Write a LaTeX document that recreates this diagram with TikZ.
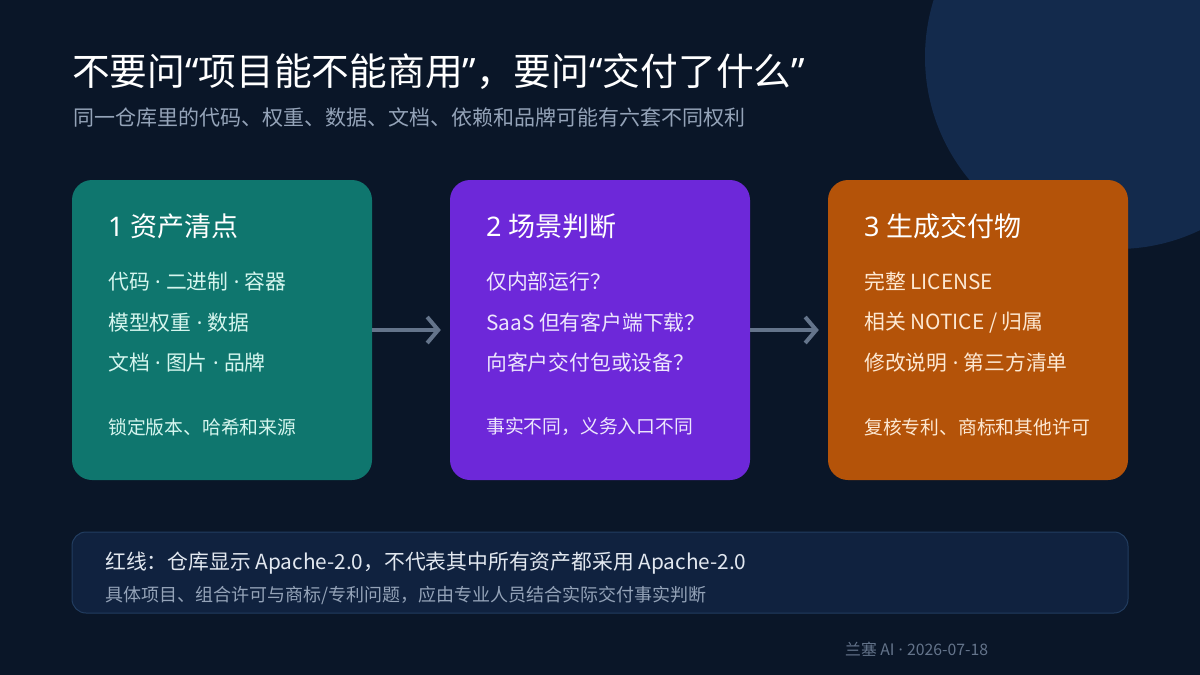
\documentclass[tikz,border=0pt]{standalone}
\usepackage{fontspec}
\setmainfont{Noto Sans CJK SC}
\newfontfamily\latf{Noto Sans}
\newcommand{\mydot}{{\latf ·}}
\newcommand{\myoq}{{\latf “}}
\newcommand{\mycq}{{\latf ”}}
\usetikzlibrary{arrows.meta}
\definecolor{bg}{HTML}{0A1628}
\definecolor{circ}{HTML}{132A4C}
\definecolor{cteal}{HTML}{0F766E}
\definecolor{cpurp}{HTML}{6D28D9}
\definecolor{corng}{HTML}{B45309}
\definecolor{arrc}{HTML}{64748B}
\definecolor{subc}{HTML}{94A3B8}
\definecolor{boxfill}{HTML}{10223F}
\definecolor{boxline}{HTML}{223D60}
\definecolor{tmint}{HTML}{D5F5EE}
\definecolor{tlav}{HTML}{EDE6FD}
\definecolor{tcream}{HTML}{FDE8D2}
\definecolor{lineone}{HTML}{E2E8F0}
\tikzset{
  card/.style={minimum width=300pt, minimum height=300pt, rounded corners=20pt, inner sep=0pt, draw=none},
  txt/.style={anchor=west, inner sep=0pt},
  ctitle/.style={txt, font=\fontsize{27}{31}\selectfont},
  citem/.style={txt, font=\fontsize{20.8}{25}\selectfont},
  cfoot/.style={txt, font=\fontsize{18.8}{22}\selectfont},
  arr/.style={draw=arrc, line width=4pt, -{Straight Barb[length=11pt, width=26pt, line width=4pt]}, shorten >=9pt}
}
\begin{document}
\begin{tikzpicture}[x=1pt,y=-1pt]
\useasboundingbox (0,0) rectangle (1200,675);
\fill[bg] (0,0) rectangle (1200,675);
\begin{scope}
\clip (0,0) rectangle (1200,675);
\fill[circ] (1117,57) circle [radius=192pt];
\end{scope}
% title
\node[txt, text=white, font=\fontsize{37.7}{42}\selectfont] (title) at (72,72) {不要问\myoq 项目能不能商用\mycq ，要问\myoq 交付了什么\mycq};
\node[txt, text=subc, font=\fontsize{21}{25}\selectfont] (sub) at (73,117) {同一仓库里的代码、权重、数据、文档、依赖和品牌可能有六套不同权利};
% cards
\node[card, fill=cteal] (c1) at (222,330) {};
\node[card, fill=cpurp] (c2) at (600,330) {};
\node[card, fill=corng] (c3) at (978,330) {};
\draw[arr] (c1.east) -- (c2.west);
\draw[arr] (c2.east) -- (c3.west);
% card 1
\node[ctitle, text=white] (t1) at (108,226) {{\latf 1 }资产清点};
\node[citem, text=tmint] (a1) at (108,282) {代码{\latf{} · }二进制{\latf{} · }容器};
\node[citem, text=tmint] (a2) at (108,323) {模型权重{\latf{} · }数据};
\node[citem, text=tmint] (a3) at (108,363) {文档{\latf{} · }图片{\latf{} · }品牌};
\node[cfoot, text=tmint] (a4) at (108,427) {锁定版本、哈希和来源};
% card 2
\node[ctitle, text=white] (t2) at (486,226) {{\latf 2 }场景判断};
\node[citem, text=tlav] (b1) at (486,282) {仅内部运行？};
\node[citem, text=tlav] (b2) at (486,323) {SaaS 但有客户端下载？};
\node[citem, text=tlav] (b3) at (486,363) {向客户交付包或设备？};
\node[cfoot, text=tlav] (b4) at (486,427) {事实不同，义务入口不同};
% card 3
\node[ctitle, text=white] (t3) at (864,226) {{\latf 3 }生成交付物};
\node[citem, text=tcream] (d1) at (864,282) {完整 LICENSE};
\node[citem, text=tcream] (d2) at (864,323) {相关 NOTICE / 归属};
\node[citem, text=tcream] (d3) at (864,363) {修改说明{\latf{} · }第三方清单};
\node[cfoot, text=tcream] (d4) at (864,427) {复核专利、商标和其他许可};
% bottom box
\node[draw=boxline, fill=boxfill, line width=1pt, rounded corners=14pt, minimum width=1056pt, minimum height=81pt, inner sep=0pt] (box) at (600,572.5) {};
\node[txt, text=lineone, font=\fontsize{20.8}{24}\selectfont] (l1) at (105,563) {红线：仓库显示 Apache-2.0，不代表其中所有资产都采用 Apache-2.0};
\node[txt, text=subc, font=\fontsize{18}{21}\selectfont] (l2) at (105,595) {具体项目、组合许可与商标/专利问题，应由专业人员结合实际交付事实判断};
% footer
\node[txt, text=arrc, font=\fontsize{15.8}{18}\selectfont] (foot) at (845,649) {兰塞 AI{\latf{} · }2026-07-18};
\end{tikzpicture}
\end{document}
